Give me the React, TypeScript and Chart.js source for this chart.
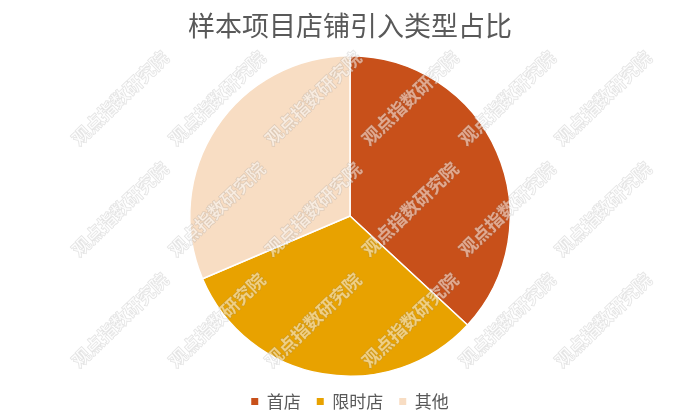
import React, { useEffect, useRef } from "react";
import { Chart, registerables } from "chart.js";

Chart.register(...registerables);

const title = "样本项目店铺引入类型占比";
const categories = ["首店", "限时店", "其他"];
const shares = [36.9, 31.7, 31.4];
const colors = ["#C8501A", "#E8A200", "#F8DDC3"];

const watermarkText = "观点指数研究院";
const watermarkCols = [120, 217, 313, 410, 507, 603];
const watermarkRows = [98, 209, 320];

const watermarkPlugin = {
  id: "watermark",
  afterDraw(chart: any) {
    const ctx = chart.ctx;
    ctx.save();
    ctx.font = 'bold 18px "Noto Sans CJK SC", sans-serif';
    ctx.textAlign = "center";
    ctx.textBaseline = "middle";
    for (const y of watermarkRows) {
      for (const x of watermarkCols) {
        ctx.save();
        ctx.translate(x, y);
        ctx.rotate((-44 * Math.PI) / 180);
        ctx.lineWidth = 1;
        ctx.strokeStyle = "rgba(110,110,110,0.22)";
        ctx.strokeText(watermarkText, 0, 0);
        ctx.fillStyle = "rgba(255,255,255,0.5)";
        ctx.fillText(watermarkText, 0, 0);
        ctx.restore();
      }
    }
    ctx.restore();
  },
};

export default function App() {
  const ref = useRef<HTMLCanvasElement | null>(null);
  useEffect(() => {
    if (!ref.current) return;
    const chart = new Chart(ref.current, {
      type: "pie",
      data: {
        labels: categories,
        datasets: [
          {
            data: shares,
            backgroundColor: colors,
            borderColor: "#ffffff",
            borderWidth: 1.5,
          },
        ],
      },
      options: {
        animation: false,
        responsive: false,
        maintainAspectRatio: false,
        layout: { padding: 0 },
        plugins: {
          title: {
            display: true,
            text: title,
            color: "#595959",
            font: { size: 27, family: '"Noto Sans CJK SC", sans-serif', weight: "normal" },
            padding: { top: 10, bottom: 12.6 },
          },
          legend: {
            display: true,
            position: "bottom",
            labels: {
              boxWidth: 7,
              boxHeight: 7,
              padding: 16,
              color: "#595959",
              font: { size: 17, family: '"Noto Sans CJK SC", sans-serif' },
              generateLabels(chart: any) {
                const items = Chart.overrides.pie.plugins.legend.labels.generateLabels(chart);
                return items.map((it: any) => ({ ...it, lineWidth: 0, strokeStyle: it.fillStyle }));
              },
            },
          },
          tooltip: { enabled: false },
        },
      },
      plugins: [watermarkPlugin],
    });
    return () => chart.destroy();
  }, []);
  return (
    <div style={{ position: "absolute", left: 0, top: 0, width: 700, height: 420, background: "#fff" }}>
      <canvas ref={ref} width={700} height={420} style={{ width: 700, height: 420 }} />
    </div>
  );
}
